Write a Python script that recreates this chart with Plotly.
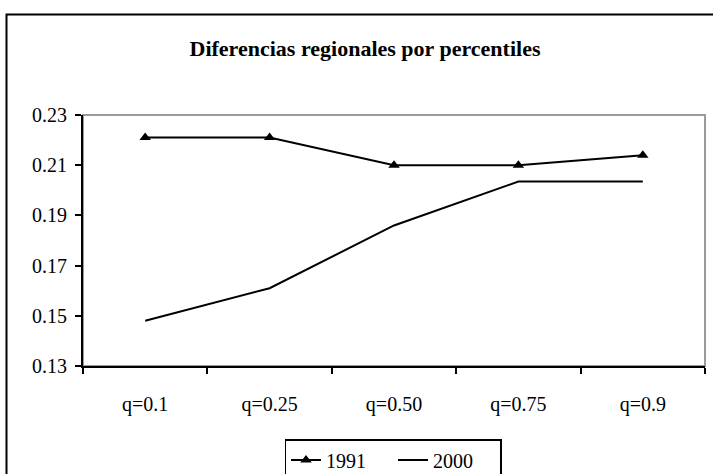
import plotly.graph_objects as go

# Percentile categories and regional difference values per year
percentiles = ["q=0.1", "q=0.25", "q=0.50", "q=0.75", "q=0.9"]
values_1991 = [0.221, 0.221, 0.210, 0.210, 0.214]
values_2000 = [0.148, 0.161, 0.186, 0.2035, 0.2035]
y_ticks = [0.13, 0.15, 0.17, 0.19, 0.21, 0.23]

FONT = "Liberation Serif, Times New Roman, serif"

W, H = 713, 474
L, R, T, B = 83, 8, 115, 108
pw, ph = W - L - R, H - T - B

fig = go.Figure()
fig.add_trace(go.Scatter(
    x=percentiles, y=values_1991, name="1991", mode="lines+markers",
    line=dict(color="black", width=2),
    marker=dict(symbol="triangle-up", size=10, color="black"),
))
fig.add_trace(go.Scatter(
    x=percentiles, y=values_2000, name="2000", mode="lines",
    line=dict(color="black", width=2),
))

def px_x(x):
    return (x - L) / pw

def px_y(y):
    return (H - B - y) / ph

shapes = [
    # grey frame of the plot area
    dict(type="rect", xref="paper", yref="paper", x0=0, y0=0, x1=1, y1=1,
         line=dict(color="#9a9a9a", width=2), layer="below"),
    # outer chart border
    dict(type="rect", xref="paper", yref="paper",
         x0=px_x(6.5), y0=px_y(490), x1=px_x(730), y1=px_y(14.5),
         line=dict(color="black", width=2), layer="below"),
]

fig.update_layout(
    width=W, height=H,
    margin=dict(l=L, r=R, t=T, b=B, pad=0, autoexpand=False),
    paper_bgcolor="white", plot_bgcolor="white",
    font=dict(family=FONT, size=20, color="black"),
    title=dict(text="<b>Diferencias regionales por percentiles</b>",
               x=365 / W, xref="container", xanchor="center",
               y=1 - 48 / H, yref="container", yanchor="middle",
               font=dict(family=FONT, size=22, color="black")),
    shapes=shapes,
    showlegend=True,
    legend=dict(orientation="h", x=393 / W, xref="container", xanchor="center",
                y=1 - 439 / H, yref="container", yanchor="top",
                bordercolor="black", borderwidth=1.5,
                bgcolor="white",
                font=dict(family=FONT, size=20, color="black"),
                entrywidth=62, entrywidthmode="pixels",
                itemwidth=30, tracegroupgap=0),
    xaxis=dict(type="category", tickson="boundaries",
               showline=True, linecolor="black", linewidth=2,
               ticks="outside", ticklen=6, tickwidth=2, tickcolor="black",
               showgrid=False, zeroline=False, automargin=False,
               ticklabelstandoff=19, range=[-0.5, 4.5],
               tickfont=dict(family=FONT, size=20)),
    yaxis=dict(range=[0.13, 0.23], tickvals=y_ticks,
               ticktext=[f"{v:.2f}" for v in y_ticks],
               showline=True, linecolor="black", linewidth=2,
               ticks="outside", ticklen=6, tickwidth=2, tickcolor="black",
               showgrid=False, zeroline=False, automargin=False,
               ticklabelstandoff=4,
               tickfont=dict(family=FONT, size=20)),
)

fig.write_html("out.html")
